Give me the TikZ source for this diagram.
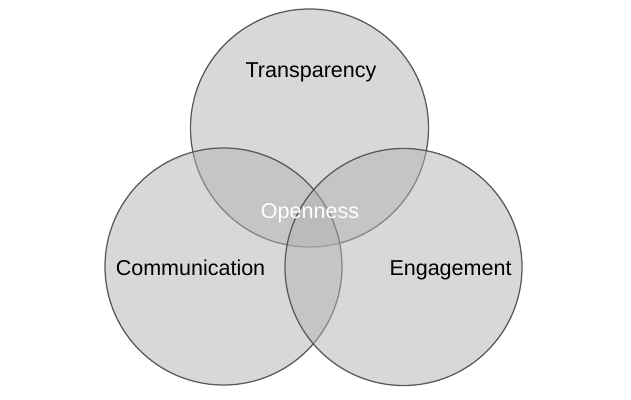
\documentclass[tikz,border=0pt]{standalone}
\usepackage{fontspec}
\setmainfont{Liberation Sans}
\usepackage{tikz}

\begin{document}
\begin{tikzpicture}[x=0.025cm,y=-0.025cm]
        \tikzstyle{every node} = [rectangle, font=\fontsize{15.3}{18}\selectfont, text height=1.5ex, text depth=0.35ex]
        \tikzstyle{set} = [draw=black!65, line width=0.9pt, fill=black!30, fill opacity=0.5]
        \useasboundingbox (0,0) rectangle (631,400);

        \draw[set] (309.5,128) circle (119);
        \draw[set] (223.5,266.5) circle (118.5);
        \draw[set] (403.5,267) circle (118.5);

        \node (T) at (311,73) {Transparency};
        \node (C) at (190.5,271) {Communication};
        \node (E) at (450.5,271) {Engagement};
        \node[text=white] (O) at (310,214) {Openness};
    	\end{tikzpicture}
\end{document}
